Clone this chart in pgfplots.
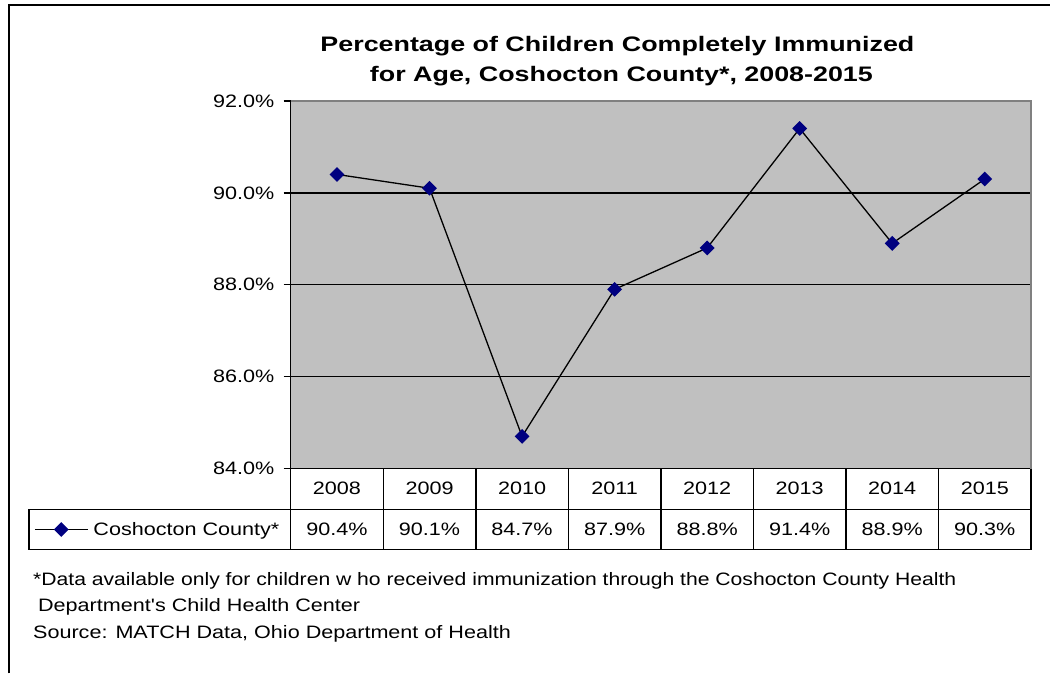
\documentclass[border=0pt]{standalone}
\usepackage{pgfplots}
\pgfplotsset{compat=1.18}
\usepackage{fontspec}
\setmainfont{Liberation Sans}
\newfontfamily\widefont[FakeStretch=1.2]{Liberation Sans}
\newfontfamily\notefont[FakeStretch=1.175]{Liberation Sans}
\newfontfamily\titlefont[FakeStretch=1.28]{Liberation Sans}

\definecolor{plotgray}{RGB}{192,192,192}
\definecolor{edgegray}{RGB}{128,128,128}
\definecolor{marknavy}{RGB}{0,0,128}
\newcommand{\lblfont}{\widefont\fontsize{18}{21}\selectfont}
\newcommand{\ttlfont}{\titlefont\fontsize{21}{25}\selectfont\bfseries}

\begin{document}
\begin{tikzpicture}[x=1pt,y=1pt]
% page = 1051 x 674
\path[fill=white] (0,0) rectangle (1051,674);
\draw[line width=2pt] (9,0) -- (9,669) -- (1051,669);

% title
\node[anchor=base,font=\ttlfont,inner sep=0pt] at (618,622) {Percentage of Children Completely Immunized};
\node[anchor=base,font=\ttlfont,inner sep=0pt] at (622,592) {for Age, Coshocton County*, 2008-2015};

\begin{axis}[
    at={(291pt,205pt)}, anchor=south west,
    scale only axis, width=741pt, height=368pt,
    xmin=-0.5, xmax=7.5, ymin=84, ymax=92,
    xtick=\empty,
    ytick={84,86,88,90,92},
    yticklabel={\pgfmathprintnumber[fixed,fixed zerofill,precision=1]{\tick}\%},
    /pgf/number format/assume math mode=true,
    yticklabel style={font=\lblfont, xshift=-6pt},
    axis x line*=bottom, axis y line*=left,
    axis line style={black, line width=1.4pt},
    tick align=outside, major tick length=7pt,
    y tick style={black, line width=1.4pt},
    ymajorgrids, grid style={black, line width=1.5pt},
    axis background/.style={fill=plotgray},
    clip=false,
    legend style={at={(axis description cs:-0.3468,-0.1658)}, anchor=west,
        draw=none, fill=none, font=\lblfont, inner sep=0pt},
    legend image code/.code={\draw[mark repeat=2,mark phase=2,#1]
        plot coordinates {(0pt,0pt) (26.5pt,0pt) (53pt,0pt)};},
]
\addplot[black, line width=1.3pt, mark=square*, mark size=4.6pt,
    mark options={rotate=45, fill=marknavy, draw=marknavy}] coordinates {
    (0,90.4) (1,90.1) (2,84.7) (3,87.9) (4,88.8) (5,91.4) (6,88.9) (7,90.3)
};
\addlegendentry{\hspace{3pt}Coshocton County*}
\end{axis}

% plot area top/right edge
\draw[edgegray, line width=1.6pt] (291,573) -- (1032,573) -- (1032,205);

% data table
\draw[line width=1.4pt] (291,205) -- (291,124) -- (1032,124) -- (1032,205);
\draw[line width=1.4pt] (29,164) rectangle (1032,124);
\draw[line width=1.4pt] (29,164) -- (1032,164);
\foreach \k in {1,...,7} {
  \draw[line width=1.4pt] ({291+92.625*\k},205) -- ({291+92.625*\k},124);
}
\foreach \yr [count=\k from 0] in {2008,2009,2010,2011,2012,2013,2014,2015} {
  \node[font=\lblfont] at ({291+92.625*(\k+0.5)},185) {\yr};
}
\foreach \v [count=\k from 0] in {90.4,90.1,84.7,87.9,88.8,91.4,88.9,90.3} {
  \node[font=\lblfont] at ({291+92.625*(\k+0.5)},144) {\v\%};
}

% footnotes
\node[anchor=base west,font=\notefont\fontsize{18}{21}\selectfont,inner sep=0pt] at (33,88) {*Data available only for children w ho received immunization through the Coshocton County Health};
\node[anchor=base west,font=\lblfont,inner sep=0pt] at (38,62) {Department's Child Health Center};
\node[anchor=base west,font=\lblfont,inner sep=0pt] at (33,35) {Source: MATCH Data, Ohio Department of Health};
\end{tikzpicture}
\end{document}
